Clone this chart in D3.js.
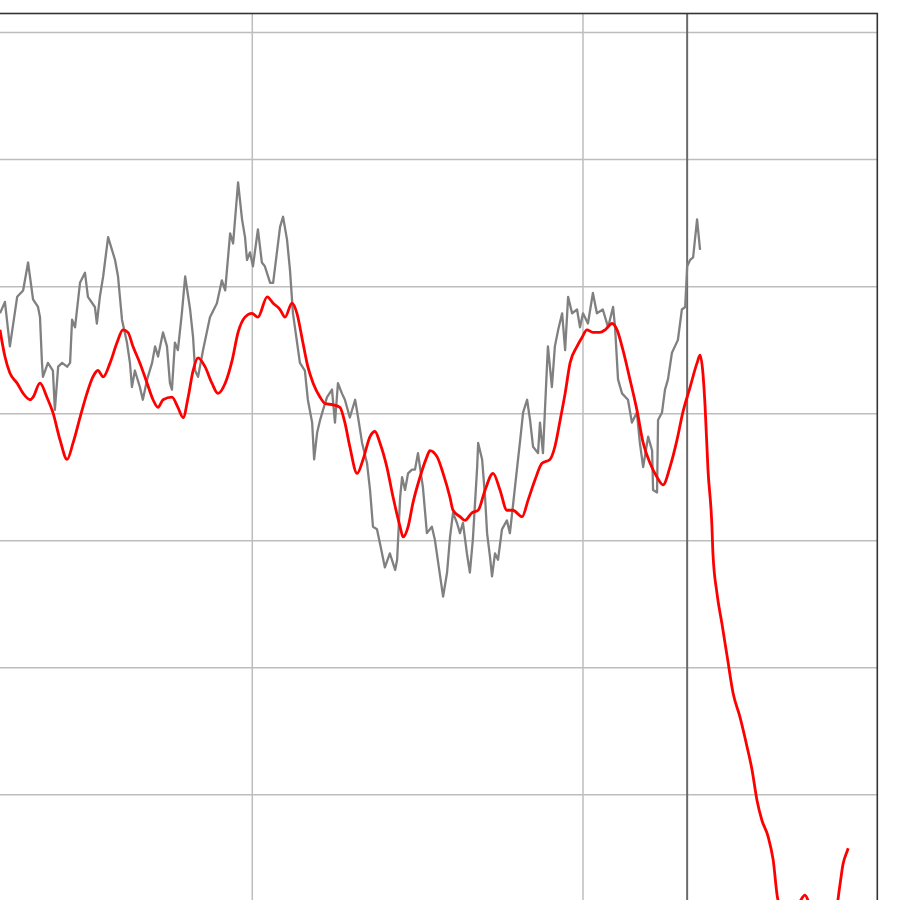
<!DOCTYPE html>
<html>
<head>
<meta charset="utf-8">
<script src="https://cdn.jsdelivr.net/npm/d3@7"></script>
<style>
html,body{margin:0;padding:0;background:#fff;overflow:hidden;}
svg{display:block;}
</style>
</head>
<body>
<script>
// ---- data ----
const xTicks = [0, 100, 200];
const yTicks = [0, 10, 20, 30, 40, 50, 60, 70];
const markerX = 231.5;

const grayX = [23.7,25.2,26.7,28.9,30.7,32.2,33.7,35.2,35.8,36.4,36.7,38.2,39.7,40.3,41.3,42.5,44.0,44.9,45.5,46.4,47.9,49.4,50.3,52.4,53.0,53.9,54.9,56.4,58.5,59.4,60.6,62.1,63.0,63.6,64.5,66.0,66.9,68.2,69.7,70.6,71.5,73.0,74.2,75.1,75.7,76.6,77.5,78.7,79.7,81.2,82.1,82.7,83.6,85.1,87.2,89.3,90.8,91.8,93.3,94.2,95.7,96.9,97.8,98.4,99.3,100.2,101.7,102.9,103.8,105.4,106.3,108.4,109.3,110.5,111.4,112.3,114.4,115.9,116.8,118.1,118.7,119.6,120.5,121.4,122.6,124.1,125.0,125.9,127.1,128.0,129.5,131.1,132.0,133.2,134.7,135.6,136.5,137.7,138.6,140.1,141.6,143.2,143.8,144.7,145.3,146.2,147.1,148.3,149.2,150.1,151.6,152.8,154.3,155.2,156.2,157.7,158.9,159.8,160.7,161.9,162.8,163.7,164.9,165.8,166.7,168.0,168.3,169.5,170.4,171.0,171.9,172.5,173.4,174.3,175.5,177.0,177.9,178.8,180.1,181.0,181.9,183.1,184.0,184.9,186.4,187.0,187.9,189.1,189.4,190.6,191.5,192.5,193.7,194.6,195.5,196.7,198.2,199.1,200.0,201.5,203.0,204.2,206.0,207.6,209.1,209.7,210.6,211.8,213.6,214.8,216.3,217.2,218.2,219.7,220.9,221.2,222.4,222.7,223.9,224.8,225.7,226.9,227.8,228.7,229.9,230.9,231.5,232.4,233.3,234.5,235.4];
const grayY = [47.9,48.8,45.3,49.2,49.7,51.9,49.0,48.4,47.6,44.0,42.9,44.0,43.4,40.3,43.7,44.0,43.7,44.0,47.4,46.8,50.3,51.1,49.2,48.4,47.1,49.2,50.8,53.9,52.1,50.8,47.4,45.6,44.0,42.1,43.4,42.1,41.1,42.7,44.0,45.3,44.5,46.4,45.3,42.4,41.9,45.6,45.0,47.9,50.8,48.2,46.0,43.4,42.9,45.0,47.6,48.7,50.5,49.7,54.2,53.4,58.2,55.3,53.9,52.1,52.7,51.6,54.5,51.9,51.6,50.3,50.3,54.7,55.5,53.7,51.3,47.9,44.0,43.4,41.1,39.3,36.4,38.5,39.5,40.3,41.3,41.9,39.3,42.4,41.6,41.1,39.7,41.1,39.7,37.7,36.1,34.0,31.1,30.9,29.8,27.9,29.0,27.7,28.5,33.4,35.0,34.0,35.3,35.6,35.6,36.9,34.2,30.6,31.1,30.1,28.3,25.6,27.5,30.3,32.2,31.4,30.6,31.4,29.0,27.5,30.1,35.8,37.7,36.4,33.4,30.6,28.7,27.2,29.0,28.5,30.9,31.6,30.6,32.7,35.8,37.9,40.1,41.1,39.5,37.4,36.9,39.3,36.9,43.7,45.3,42.1,45.3,46.6,47.9,45.0,49.2,47.9,48.2,46.8,47.9,47.1,49.5,47.9,48.2,46.8,48.4,46.8,42.7,41.6,41.1,39.3,40.1,37.7,35.8,38.2,37.1,34.0,33.8,39.5,40.1,41.9,42.7,44.8,45.3,45.8,48.2,48.4,51.6,52.1,52.3,55.3,52.9];

const redX = [23.7,25.2,26.7,28.9,30.7,32.8,33.7,35.8,37.9,39.7,41.9,44.0,45.8,47.9,50.0,51.8,53.3,54.9,57.0,59.1,60.9,62.4,63.9,66.0,68.2,70.0,71.5,73.0,75.7,77.5,79.1,80.6,82.1,83.6,85.7,87.8,89.6,91.8,93.9,95.7,97.8,99.9,101.7,104.5,106.3,108.4,109.9,112.0,113.5,115.3,116.8,118.4,120.5,122.0,124.4,126.5,128.0,129.5,131.7,133.5,135.6,137.1,138.6,140.7,142.6,144.7,145.6,147.1,148.6,150.7,152.8,153.7,155.9,157.7,159.8,160.7,162.8,164.3,166.4,168.3,170.4,172.8,174.9,177.0,178.8,181.6,183.4,185.5,187.6,190.0,191.5,193.1,194.6,196.1,198.2,199.7,201.2,203.0,205.1,206.7,208.8,210.3,212.1,214.2,216.3,218.2,220.3,222.4,224.2,226.3,228.4,230.2,232.4,234.5,235.4,236.3,236.9,237.8,239.0,239.3,240.5,242.0,243.6,245.4,247.5,249.6,251.1,252.6,254.1,256.0,257.5,259.0,262.6,265.6,267.1,268.7,271.7,276.2,277.7,278.6,279.8,280.2];
const redY = [46.6,44.5,43.2,42.4,41.6,41.1,41.3,42.4,41.3,40.1,37.9,36.4,37.7,39.7,41.6,42.9,43.4,42.9,44.0,45.6,46.6,46.4,45.3,44.0,42.4,41.1,40.5,41.1,41.3,40.5,39.7,41.3,43.4,44.4,43.7,42.4,41.6,42.4,44.2,46.4,47.6,47.9,47.6,49.2,48.7,48.2,47.6,48.7,47.9,45.6,43.7,42.4,41.3,40.8,40.7,40.5,39.3,37.4,35.3,36.4,38.2,38.6,37.7,35.8,33.4,31.1,30.3,31.1,33.0,35.0,36.6,37.1,36.6,35.3,33.4,32.4,31.9,31.6,32.2,32.4,34.0,35.3,34.0,32.4,32.4,31.9,33.2,34.8,36.1,36.4,37.4,39.5,41.6,44.0,45.3,46.0,46.6,46.4,46.4,46.6,47.1,46.6,45.0,42.7,40.3,37.7,36.1,35.0,34.4,35.8,37.9,40.1,42.1,44.0,44.6,43.1,40.7,35.6,31.1,29.0,25.9,23.5,20.9,18.0,16.1,13.8,12.0,9.6,8.0,6.7,4.9,1.7,0.5,1.6,2.1,1.3,-0.2,0.5,2.9,4.5,5.5,5.8];

// ---- layout ----
const W = 900, H = 900;
const xDomain = [0, 289];
const yDomain = [-5, 71.5];

const x = d3.scaleLinear().domain(xDomain).range([-78.4, 877.3]);
const y = d3.scaleLinear().domain([0, 71.5]).range([921.9, 13.5]);

const svg = d3.select("body").append("svg")
  .attr("width", W).attr("height", H)
  .attr("viewBox", `0 0 ${W} ${H}`);

svg.append("rect").attr("width", W).attr("height", H).attr("fill", "#fff");

const pLeft = x(xDomain[0]), pRight = x(xDomain[1]);
const pTop = y(yDomain[1]), pBottom = y(yDomain[0]);

svg.append("defs").append("clipPath").attr("id", "plot")
  .append("rect").attr("x", pLeft).attr("y", pTop)
  .attr("width", pRight - pLeft).attr("height", pBottom - pTop);

const g = svg.append("g").attr("clip-path", "url(#plot)");

// grid
g.append("g").selectAll("line").data(yTicks).join("line")
  .attr("x1", pLeft).attr("x2", pRight)
  .attr("y1", d => y(d)).attr("y2", d => y(d))
  .attr("stroke", "#bdbdbd").attr("stroke-width", 1.5);

g.append("g").selectAll("line").data(xTicks).join("line")
  .attr("x1", d => x(d)).attr("x2", d => x(d))
  .attr("y1", pTop).attr("y2", pBottom)
  .attr("stroke", "#bdbdbd").attr("stroke-width", 1.5);

// marker line
g.append("line")
  .attr("x1", x(markerX)).attr("x2", x(markerX))
  .attr("y1", pTop).attr("y2", pBottom)
  .attr("stroke", "#6a6a6a").attr("stroke-width", 2);

const grayLine = d3.line().x(d => x(d[0])).y(d => y(d[1]));
const redLine = d3.line().x(d => x(d[0])).y(d => y(d[1])).curve(d3.curveMonotoneX);

g.append("path")
  .datum(grayX.map((v, i) => [v, grayY[i]]))
  .attr("d", grayLine)
  .attr("fill", "none").attr("stroke", "#808080")
  .attr("stroke-width", 2.3).attr("stroke-linejoin", "round");

g.append("path")
  .datum(redX.map((v, i) => [v, redY[i]]))
  .attr("d", redLine)
  .attr("fill", "none").attr("stroke", "#ff0000")
  .attr("stroke-width", 2.8).attr("stroke-linejoin", "round");

// frame
svg.append("rect")
  .attr("x", pLeft).attr("y", pTop)
  .attr("width", pRight - pLeft).attr("height", pBottom - pTop)
  .attr("fill", "none").attr("stroke", "#333").attr("stroke-width", 1.6);
</script>
</body>
</html>
